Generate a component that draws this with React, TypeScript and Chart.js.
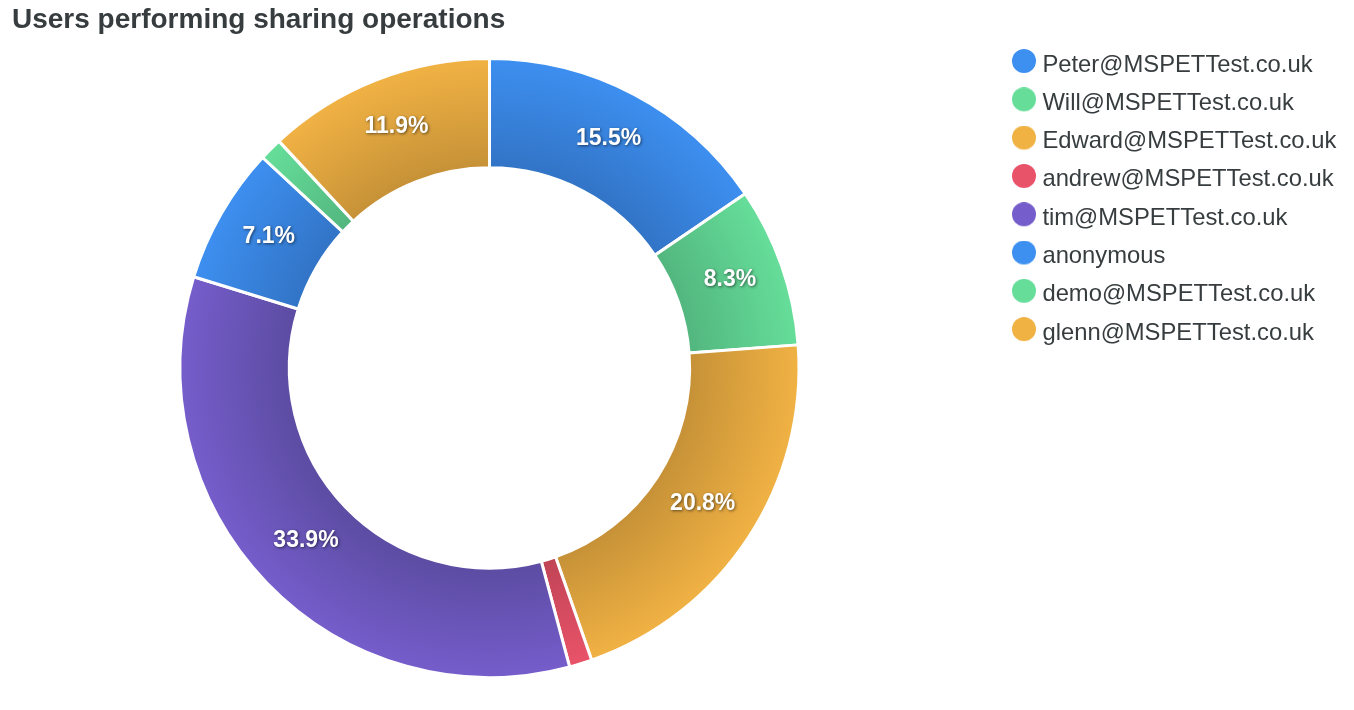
import React, { useEffect, useRef } from "react";
import { Chart, registerables } from "chart.js";

Chart.register(...registerables);

// Sharing operations per user
const USERS = [
  "Peter@MSPETTest.co.uk",
  "Will@MSPETTest.co.uk",
  "Edward@MSPETTest.co.uk",
  "andrew@MSPETTest.co.uk",
  "tim@MSPETTest.co.uk",
  "anonymous",
  "demo@MSPETTest.co.uk",
  "glenn@MSPETTest.co.uk",
];
const OPERATIONS = [26, 14, 35, 2, 57, 12, 2, 20];

const LIGHT = [
  "rgb(61,143,240)",
  "rgb(102,222,154)",
  "rgb(241,178,68)",
  "rgb(233,83,105)",
  "rgb(117,93,203)",
  "rgb(61,143,240)",
  "rgb(102,222,154)",
  "rgb(241,178,68)",
];
const DARK = [
  "rgb(50,116,198)",
  "rgb(82,182,126)",
  "rgb(198,145,55)",
  "rgb(192,68,86)",
  "rgb(92,76,162)",
  "rgb(50,116,198)",
  "rgb(82,182,126)",
  "rgb(198,145,55)",
];

const FONT = "'Liberation Sans', Arial, Helvetica, sans-serif";
const TEXT_COLOR = "#373d3f";
const OUTER_R = 309.5;
const INNER_R = 199.5;
const LEGEND_PAD = 14.5;
const LEGEND_LEFT = 995;
const LEGEND_TOP = 30.6;
const LABEL_LIFT = 4;
const MIN_LABEL_ANGLE = (10 * Math.PI) / 180;

// Each slice is shaded from the hole (dark) out to its rim (light).
function sliceFill(ctx: any) {
  const i = ctx.dataIndex;
  if (i === undefined) return LIGHT[0];
  const chart = ctx.chart;
  const area = chart.chartArea;
  if (!area) return LIGHT[i];
  const cx = (area.left + area.right) / 2;
  const cy = (area.top + area.bottom) / 2;
  const g = chart.ctx.createRadialGradient(cx, cy, INNER_R, cx, cy, OUTER_R);
  g.addColorStop(0, DARK[i]);
  g.addColorStop(1, LIGHT[i]);
  return g;
}

// Round legend marker that sits a little above the middle of its text line.
function legendDot(color: string) {
  const c = document.createElement("canvas");
  c.width = 24;
  c.height = 32;
  const g = c.getContext("2d")!;
  g.fillStyle = color;
  g.beginPath();
  g.arc(12, 12, 12, 0, Math.PI * 2);
  g.fill();
  return c;
}

// Percentage labels centred in each arc, white with a soft shadow.
const percentLabels = {
  id: "percentLabels",
  afterDatasetsDraw(chart: any) {
    const meta = chart.getDatasetMeta(0);
    const data: number[] = chart.data.datasets[0].data;
    const total = data.reduce((a, b) => a + b, 0);
    const ctx = chart.ctx;
    ctx.save();
    ctx.font = `bold 23px ${FONT}`;
    ctx.textAlign = "center";
    ctx.textBaseline = "middle";
    ctx.fillStyle = "#ffffff";
    ctx.shadowColor = "rgba(0,0,0,0.55)";
    ctx.shadowBlur = 3;
    ctx.shadowOffsetX = 1;
    ctx.shadowOffsetY = 1;
    meta.data.forEach((arc: any, i: number) => {
      const { startAngle, endAngle } = arc.getProps(["startAngle", "endAngle"], true);
      if (endAngle - startAngle < MIN_LABEL_ANGLE) return;
      const p = arc.tooltipPosition(true);
      ctx.fillText(((data[i] / total) * 100).toFixed(1) + "%", p.x, p.y - LABEL_LIFT);
    });
    ctx.restore();
  },
};

// Places the legend block at its fixed spot to the right of the ring.
const legendPlacement = {
  id: "legendPlacement",
  afterLayout(chart: any) {
    const lg = chart.legend;
    if (!lg) return;
    const w = lg.width;
    const h = lg.height;
    lg.left = LEGEND_LEFT;
    lg.right = LEGEND_LEFT + w;
    lg.top = LEGEND_TOP;
    lg.bottom = LEGEND_TOP + h;
  },
};

export default function App() {
  const canvasRef = useRef<HTMLCanvasElement | null>(null);

  useEffect(() => {
    if (!canvasRef.current) return;
    const dots = LIGHT.map(legendDot);
    const chart = new Chart(canvasRef.current, {
      type: "doughnut",
      data: {
        labels: USERS,
        datasets: [
          {
            data: OPERATIONS,
            backgroundColor: sliceFill,
            borderColor: "#ffffff",
            borderWidth: 3,
            hoverOffset: 0,
          },
        ],
      },
      plugins: [percentLabels, legendPlacement],
      options: {
        responsive: true,
        maintainAspectRatio: false,
        animation: false,
        radius: OUTER_R,
        cutout: INNER_R,
        layout: { padding: { top: 0, left: 4, right: 379, bottom: 24 } },
        plugins: {
          title: {
            display: true,
            text: "Users performing sharing operations",
            align: "start",
            color: TEXT_COLOR,
            font: { family: FONT, size: 28, weight: "bold", lineHeight: "24px" },
            padding: { top: 0, bottom: 26 },
          },
          legend: {
            position: "chartArea",
            align: "start",
            labels: {
              usePointStyle: true,
              boxWidth: 13,
              boxHeight: 17,
              padding: LEGEND_PAD,
              color: TEXT_COLOR,
              font: { family: FONT, size: 23.8 },
              generateLabels: (c: any) =>
                USERS.map((name, i) => ({
                  text: name,
                  fillStyle: LIGHT[i],
                  strokeStyle: LIGHT[i],
                  lineWidth: 0,
                  pointStyle: dots[i],
                  hidden: !c.getDataVisibility(i),
                  index: i,
                  fontColor: TEXT_COLOR,
                })),
            },
          },
          tooltip: { enabled: false },
        },
      } as any,
    });
    return () => chart.destroy();
  }, []);

  return (
    <div style={{ position: "relative", width: "100%", height: "694px" }}>
      <canvas ref={canvasRef} />
    </div>
  );
}
